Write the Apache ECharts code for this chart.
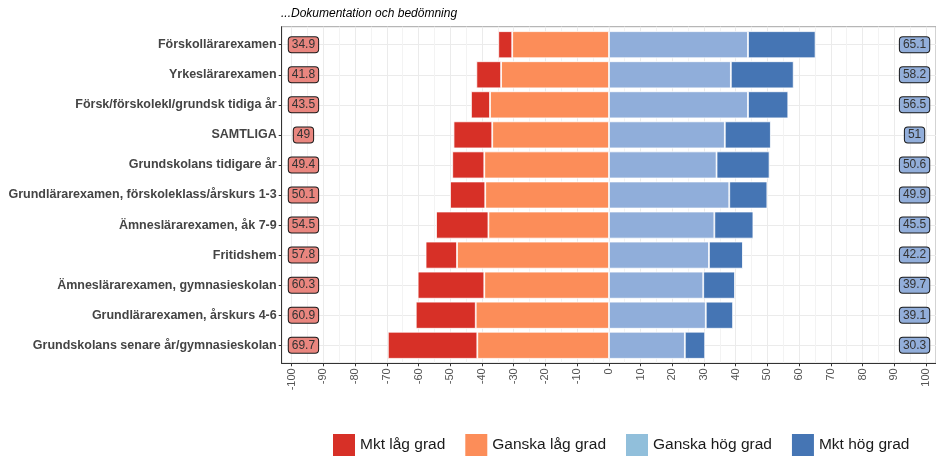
<!DOCTYPE html>
<html>
<head>
<meta charset="utf-8">
<script src="https://cdn.jsdelivr.net/npm/echarts@6/dist/echarts.min.js"></script>
<style>html,body{margin:0;padding:0;background:#fff;}#c{width:936px;height:458px;}</style>
</head>
<body>
<div id="c"></div>
<script>
const categories = ['Förskollärarexamen','Yrkeslärarexamen','Försk/förskolekl/grundsk tidiga år','SAMTLIGA','Grundskolans tidigare år','Grundlärarexamen, förskoleklass/årskurs 1-3','Ämneslärarexamen, åk 7-9','Fritidshem','Ämneslärarexamen, gymnasieskolan','Grundlärarexamen, årskurs 4-6','Grundskolans senare år/gymnasieskolan'];
const mktLag    = [4.4, 7.8, 6.0, 12.2, 10.1, 11.1, 16.5, 9.9, 21.0, 18.9, 28.2];
const ganskaLag = [30.5, 34.0, 37.5, 36.8, 39.3, 39.0, 38.0, 47.9, 39.3, 42.0, 41.5];
const ganskaHog = [43.8, 38.4, 43.8, 36.5, 33.9, 37.9, 33.2, 31.5, 29.7, 30.5, 23.9];
const mktHog    = [21.3, 19.8, 12.7, 14.5, 16.7, 12.0, 12.3, 10.7, 10.0, 8.6, 6.4];
const lagTotal  = [34.9, 41.8, 43.5, 49, 49.4, 50.1, 54.5, 57.8, 60.3, 60.9, 69.7];
const hogTotal  = [65.1, 58.2, 56.5, 51, 50.6, 49.9, 45.5, 42.2, 39.7, 39.1, 30.3];
const xTicks = [-100, -90, -80, -70, -60, -50, -40, -30, -20, -10, 0, 10, 20, 30, 40, 50, 60, 70, 80, 90, 100];
const xMinor = [-95, -85, -75, -65, -55, -45, -35, -25, -15, -5, 5, 15, 25, 35, 45, 55, 65, 75, 85, 95];
const legendNames = ['Mkt låg grad', 'Ganska låg grad', 'Ganska hög grad', 'Mkt hög grad'];
const legendColors = ['#D73027', '#FC8D59', '#91BFDB', '#4575B4'];
const barColors = ['#D73027', '#FC8D59', '#90AEDA', '#4575B4'];
const subtitle = '...Dokumentation och bedömning';
const labelX = 96.3;

const FONT = "'Liberation Sans', Arial, sans-serif";
const yPos = categories.map((c, i) => i + 1);

const chart = echarts.init(document.getElementById('c'), null, {renderer: 'canvas'});
const barCommon = {
  type: 'bar', xAxisIndex: 2, yAxisIndex: 1, stack: 'tot', barWidth: '90%',
  silent: true
};
const boxLabel = (bg) => ({
  show: true, position: 'inside', formatter: p => String(p.data[2]),
  backgroundColor: bg, borderColor: '#1a1a1a', borderWidth: 1, borderRadius: 3,
  padding: [2, 3, 1, 3], fontSize: 12, color: '#333', fontFamily: FONT, opacity: 1
});
chart.setOption({
  animation: false,
  textStyle: {fontFamily: FONT},
  title: {
    text: subtitle, left: 281, top: 8, padding: 0,
    textStyle: {fontStyle: 'italic', fontWeight: 'normal', fontSize: 12, color: '#000', fontFamily: FONT}
  },
  legend: {
    data: legendNames.map((n, i) => ({name: n, itemStyle: {color: legendColors[i], borderWidth: 0}})),
    left: 333, top: 434, padding: 0, icon: 'rect',
    itemWidth: 22, itemHeight: 22, itemGap: 20,
    textStyle: {fontSize: 15.5, color: '#1a1a1a', fontFamily: FONT},
    selectedMode: false
  },
  grid: [
    {left: 281.7, right: 0, top: 26.7, bottom: 94.7, show: true, borderColor: '#a6a6a6', borderWidth: 1, backgroundColor: 'transparent'},
    {left: 291.7, right: 9.7, top: 29.7, bottom: 97.7}
  ],
  xAxis: [
    {gridIndex: 0, type: 'value', min: -103.15, max: 103.15, position: 'bottom',
     axisLine: {show: true, onZero: false, lineStyle: {color: '#333', width: 1}},
     axisTick: {show: true, customValues: xTicks, length: 3, lineStyle: {color: '#333'}},
     axisLabel: {customValues: xTicks, rotate: 90, fontSize: 11, color: '#555', margin: 5, fontFamily: FONT},
     splitLine: {show: true, lineStyle: {color: '#ebebeb', width: 1}}},
    {gridIndex: 0, type: 'value', min: -103.15, max: 103.15, position: 'top',
     axisLine: {show: false}, axisTick: {show: false, customValues: xMinor},
     axisLabel: {show: false},
     splitLine: {show: true, lineStyle: {color: '#f3f3f3', width: 1}}},
    {gridIndex: 1, type: 'value', min: -100, max: 100, show: false}
  ],
  yAxis: [
    {gridIndex: 0, type: 'value', inverse: true, min: 0.4, max: 11.6,
     axisLine: {show: true, onZero: false, lineStyle: {color: '#333', width: 1}},
     axisTick: {show: true, customValues: yPos, length: 3, lineStyle: {color: '#333'}},
     axisLabel: {customValues: yPos, formatter: v => categories[Math.round(v) - 1],
                 fontWeight: 'bold', fontSize: 12.5, color: '#444', margin: 5, fontFamily: FONT},
     splitLine: {show: true, lineStyle: {color: '#ebebeb', width: 1}}},
    {gridIndex: 1, type: 'category', data: categories, inverse: true, show: false}
  ],
  series: [
    Object.assign({}, barCommon, {name: legendNames[1], data: ganskaLag.map(v => -v),
      itemStyle: {color: barColors[1], borderColor: '#fff', borderWidth: 0.8}}),
    Object.assign({}, barCommon, {name: legendNames[0], data: mktLag.map(v => -v),
      itemStyle: {color: barColors[0], borderColor: '#fff', borderWidth: 0.8}}),
    Object.assign({}, barCommon, {name: legendNames[2], data: ganskaHog,
      itemStyle: {color: barColors[2], borderColor: '#fff', borderWidth: 0.8}}),
    Object.assign({}, barCommon, {name: legendNames[3], data: mktHog,
      itemStyle: {color: barColors[3], borderColor: '#fff', borderWidth: 0.8}}),
    {type: 'scatter', name: 'lagLabels', xAxisIndex: 2, yAxisIndex: 1, symbolSize: 1, silent: true,
     itemStyle: {color: 'rgba(0,0,0,0)'}, z: 5,
     data: lagTotal.map((v, i) => [-labelX, i, v]), label: boxLabel('#E9867F')},
    {type: 'scatter', name: 'hogLabels', xAxisIndex: 2, yAxisIndex: 1, symbolSize: 1, silent: true,
     itemStyle: {color: 'rgba(0,0,0,0)'}, z: 5,
     data: hogTotal.map((v, i) => [labelX, i, v]), label: boxLabel('#92AEDA')}
  ]
});
</script>
</body>
</html>
